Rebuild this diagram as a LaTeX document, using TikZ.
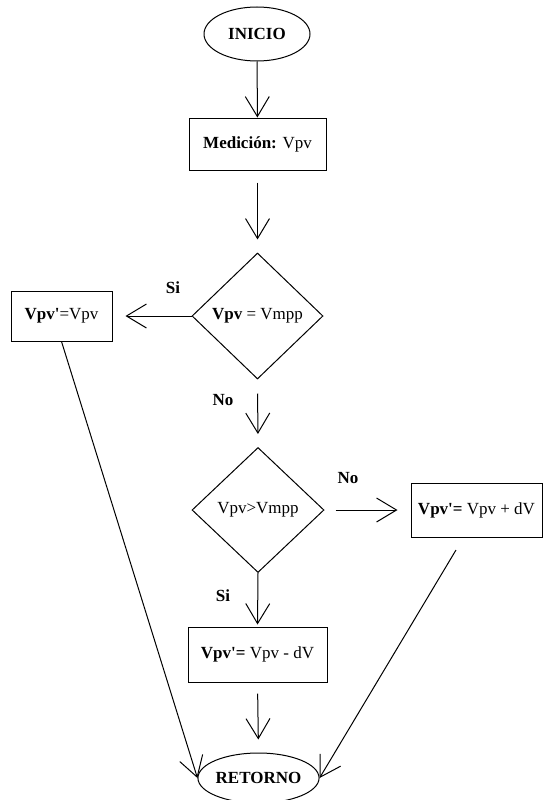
\documentclass[tikz,border=0pt]{standalone}
\usepackage{fontspec}
\setmainfont{Liberation Serif}
\usetikzlibrary{shapes.geometric,arrows.meta}
\begin{document}
\begin{tikzpicture}[x=1pt,y=-1pt,
  every node/.style={font=\fontsize{17}{20}\selectfont, inner sep=0pt},
  term/.style={draw, ellipse, line width=1pt},
  procbox/.style={draw, rectangle, line width=1pt},
  decision/.style={draw, diamond, line width=1pt},
  lbl/.style={font=\fontsize{17}{20}\selectfont\bfseries},
  arr/.style={line width=1pt, -{Straight Barb[length=20pt,width=24pt,line width=1pt]}},
  ln/.style={line width=0.8pt}
]
\useasboundingbox (0,0) rectangle (545,800);
\node[term, minimum width=106pt, minimum height=54pt] (ini) at (257,34) {\textbf{INICIO}};
\node[procbox, minimum width=137pt, minimum height=52pt] (med) at (257.5,144) {\textbf{Medición:} Vpv};
\node[decision, minimum width=131pt, minimum height=126pt] (d1) at (257.5,316) {\textbf{Vpv} = Vmpp};
\node[procbox, minimum width=101pt, minimum height=50pt] (l) at (61.5,316) {\textbf{Vpv\textquotesingle}=Vpv};
\node[decision, minimum width=132pt, minimum height=125pt] (d2) at (258,510) {Vpv>Vmpp};
\node[procbox, minimum width=131pt, minimum height=54pt] (r) at (476.5,510) {\textbf{Vpv\textquotesingle=} Vpv + dV};
\node[procbox, minimum width=139pt, minimum height=55pt] (m) at (257.5,654.5) {\textbf{Vpv\textquotesingle=} Vpv - dV};
\node[term, minimum width=119pt, minimum height=50pt] (ret) at (258.5,778) {\textbf{RETORNO}};

\node[lbl] (si1) at (173,288) {Si};
\node[lbl] (no1) at (223,400) {No};
\node[lbl] (no2) at (348,478) {No};
\node[lbl] (si2) at (223,596) {Si};

\coordinate (rs) at (456,550);

\draw[arr] (ini) -- (med);
\draw[arr, shorten <=12pt, shorten >=13pt] (med) -- (d1);
\draw[arr, shorten >=13pt] (d1.west) -- (l.east);
\draw[arr, shorten <=14pt, shorten >=13pt] (d1.south) -- (d2.north);
\draw[arr, shorten <=11pt, shorten >=13pt] (d2.east) -- (r.west);
\draw[arr, shorten >=2pt] (d2.south) -- (m.north);
\draw[arr, shorten <=11pt, shorten >=13pt] (m.south) -- (ret.north);
\draw[arr] (l.south) -- (ret.west);
\draw[arr] (rs) -- (ret.east);
\end{tikzpicture}
\end{document}
